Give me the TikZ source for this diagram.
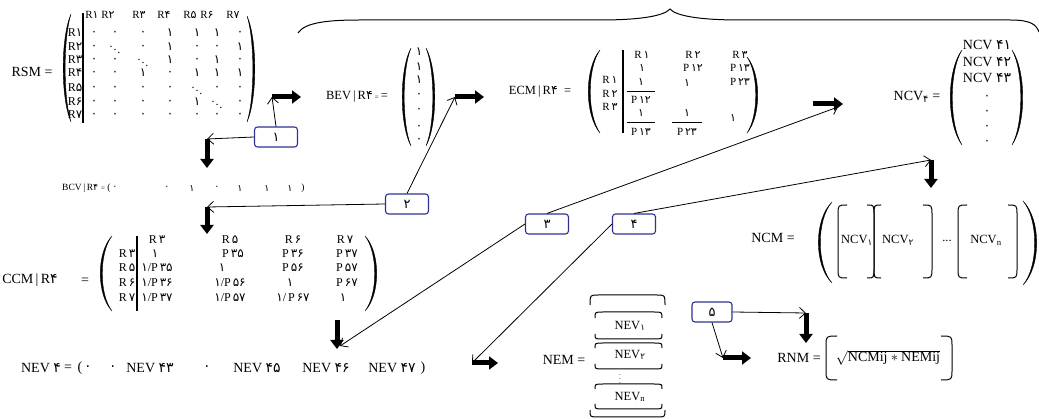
\documentclass[tikz,border=0pt]{standalone}
\usepackage{fontspec}
\setmainfont{Liberation Serif}
\newfontfamily\fa[Scale=1.0]{DejaVu Sans}
\usetikzlibrary{arrows.meta}
\definecolor{navy}{HTML}{2E3192}
\newcommand\fn[1]{{\fa #1}}
\newcommand\zz{\fn{۰}}
\newcommand\oo{\fn{۱}}
\newcommand\dg{$\scriptscriptstyle\ddots$}
% left / right parenthesis: x, top, bottom, width
\newcommand\LP[4]{\filldraw[parfill] ({#1+#4},#2) .. controls ({#1-0.3*#4},{#2+0.22*(#3-#2)}) and ({#1-0.3*#4},{#3-0.22*(#3-#2)}) .. ({#1+#4},#3) .. controls ({#1-0.3*#4+2.6},{#3-0.22*(#3-#2)}) and ({#1-0.3*#4+2.6},{#2+0.22*(#3-#2)}) .. ({#1+#4},#2) -- cycle;}
\newcommand\RP[4]{\filldraw[parfill] ({#1-#4},#2) .. controls ({#1+0.3*#4},{#2+0.22*(#3-#2)}) and ({#1+0.3*#4},{#3-0.22*(#3-#2)}) .. ({#1-#4},#3) .. controls ({#1+0.3*#4-2.6},{#3-0.22*(#3-#2)}) and ({#1+0.3*#4-2.6},{#2+0.22*(#3-#2)}) .. ({#1-#4},#2) -- cycle;}
% rounded brackets: x of vertical line, top, bottom, width
\newcommand\LB[4]{\draw[brk] ({#1+#4},#2) .. controls (#1,#2) .. (#1,{#2+10}) -- (#1,{#3-10}) .. controls (#1,#3) .. ({#1+#4},#3);}
\newcommand\RB[4]{\draw[brk] ({#1-#4},#2) .. controls (#1,#2) .. (#1,{#2+10}) -- (#1,{#3-10}) .. controls (#1,#3) .. ({#1-#4},#3);}
% horizontal caps: x1, x2, y, depth
\newcommand\TC[4]{\draw[brk] (#1,{#3+#4}) .. controls (#1,#3) .. ({#1+8},#3) -- ({#2-8},#3) .. controls (#2,#3) .. (#2,{#3+#4});}
\newcommand\BC[4]{\draw[brk] (#1,{#3-#4}) .. controls (#1,#3) .. ({#1+8},#3) -- ({#2-8},#3) .. controls (#2,#3) .. (#2,{#3-#4});}
\begin{document}
\begin{tikzpicture}[x=1pt,y=-1pt,
  tx/.style={inner sep=0pt, font=\fontsize{12}{13}\selectfont},
  txs/.style={inner sep=0pt, font=\fontsize{11}{12}\selectfont},
  lb/.style={inner sep=0pt, font=\fontsize{14}{15}\selectfont},
  lbs/.style={inner sep=0pt, font=\fontsize{12.5}{14}\selectfont},
  sm/.style={inner sep=0pt, font=\fontsize{9.5}{11}\selectfont},
  box/.style={draw=navy, line width=1.1pt, rounded corners=3pt, minimum width=43pt, minimum height=20pt, inner sep=0pt, font=\fontsize{13}{14}\selectfont},
  tarr/.style={line width=0.8pt, -{Straight Barb[length=6pt,width=11pt]}},
  blk/.style={line width=5pt, -{Triangle[length=9pt,width=13pt]}},
  parfill/.style={line width=0.4pt, fill=black},
  brk/.style={line width=1pt},
  bar/.style={line width=1.4pt}
]
\useasboundingbox (0,0) rectangle (1039,419);

% ---------- top brace
\draw[line width=1pt] (298,33) .. controls (305,22) and (330,20) .. (360,20) -- (600,20) .. controls (640,20) and (664,16) .. (670,9) .. controls (676,16) and (700,20) .. (740,20) -- (1010,20) .. controls (1030,20) and (1036,24) .. (1039,32);

% ---------- RSM
\node[lb] (rsm) at (32,72) {RSM =};
\LP{63}{14}{122}{8}
\RP{255}{16}{122}{8}
\draw[bar] (83,13) -- (83,123);
\foreach \x/\k [count=\i] in {92/۱,108/۲,139/۳,164/۴,190/۵,207/۶,233/۷}
  \node[txs] (rh\i) at (\x,15) {R\fn{\k}};
\foreach \y/\k [count=\i] in {33/۱,47/۲,60/۳,73/۴,88/۵,102/۶,115/۷}
  \node[tx] (rl\i) at (75,\y) {R\fn{\k}};
\foreach \y/\ua/\ub/\uc/\ud/\ue/\uf/\ug [count=\r] in {
  33/\zz/\zz/\zz/\oo/\oo/\oo/\zz,
  47/\zz/\dg/\zz/\oo/\zz/\zz/\oo,
  60/\zz/\zz/\dg/\oo/\zz/\oo/\zz,
  73/\zz/\zz/\oo/\zz/\oo/\oo/\oo,
  88/\zz/\zz/\zz/\zz/\dg/\zz/\zz,
  102/\zz/\zz/\zz/\zz/\oo/\dg/\zz,
  115/\zz/\zz/\zz/\zz/\zz/\zz/\zz}{
  \node[tx] (m\r a) at (94,\y) {\ua};
  \node[tx] (m\r b) at (115,\y) {\ub};
  \node[tx] (m\r c) at (143,\y) {\uc};
  \node[tx] (m\r d) at (170,\y) {\ud};
  \node[tx] (m\r e) at (197,\y) {\ue};
  \node[tx] (m\r f) at (217,\y) {\uf};
  \node[tx] (m\r g) at (240,\y) {\ug};
}

% ---------- BEV
\node[lbs] (bev) at (357,97) {BEV\,|\,R\fn{۴}\,{\scriptsize =}\,=};
\LP{402}{48}{146}{9}
\RP{435}{48}{146}{9}
\foreach \y/\v [count=\i] in {52/\oo,67/\oo,80/\oo,95/\zz,110/\zz,127/\zz,140/\zz}
  \node[tx] (bv\i) at (419,\y) {\v};

% ---------- ECM
\node[lbs] (ecm) at (540,92) {ECM\,|\,R\fn{۴}\ \ =};
\LP{588}{50}{133}{12}
\RP{758}{57}{133}{11}
\draw[bar] (623,50) -- (623,133);
\node[txs] (el1) at (610,80) {R\,\fn{۱}};
\node[txs] (el2) at (610,94) {R\,\fn{۲}};
\node[txs] (el3) at (610,107) {R\,\fn{۳}};
\node[txs] (eh1) at (642,55) {R\,\fn{۱}};
\node[txs] (eh2) at (693,55) {R\,\fn{۲}};
\node[txs] (eh3) at (740,55) {R\,\fn{۳}};
\node[txs] (e11) at (642,68) {\oo};
\node[txs] (e12) at (693,68) {P\,\fn{۱۲}};
\node[txs] (e13) at (740,68) {P\,\fn{۱۳}};
\node[txs] (e21n) at (641,82) {\oo};
\draw[line width=0.9pt] (627,91) -- (655,91);
\node[txs] (e21d) at (641,100) {P\,\fn{۱۲}};
\node[txs] (e22) at (687,83) {\oo};
\node[txs] (e23) at (740,82) {P\,\fn{۲۳}};
\node[txs] (e31n) at (641,113) {\oo};
\draw[line width=0.9pt] (627,122) -- (655,122);
\node[txs] (e31d) at (641,132) {P\,\fn{۱۳}};
\node[txs] (e32n) at (687,113) {\oo};
\draw[line width=0.9pt] (672,122) -- (702,122);
\node[txs] (e32d) at (687,132) {P\,\fn{۲۳}};
\node[txs] (e33) at (733,118) {\oo};

% ---------- NCV vector
\node[lb] (ncvl) at (917,97) {NCV\textsubscript{\fn{۴}} =};
\LP{950}{50}{145}{12}
\RP{1023}{50}{145}{11}
\node[lb] (nv1) at (987,45) {NCV \fn{۴۱}};
\node[lb] (nv2) at (987,62) {NCV \fn{۴۲}};
\node[lb] (nv3) at (987,78) {NCV \fn{۴۳}};
\foreach \y [count=\i] in {97,112,127,142}
  \node[tx] (nvd\i) at (987,\y) {\zz};

% ---------- BCV
\node[sm, anchor=west] (bcv) at (62,188) {BCV\,|\,R\fn{۴}};
\node[sm] (bcveq) at (103,189) {{\scriptsize =}};
\node[sm] (bcvl) at (109,188) {(};
\foreach \x/\v [count=\i] in {115/\zz,167/\zz,192/\oo,217/\zz,240/\oo,267/\oo,290/\oo}
  \node[sm] (bc\i) at (\x,188) {\v};
\node[sm] (bcvr) at (303,188) {)};

% ---------- CCM
\node[lb] (ccm) at (30,280) {CCM\,|\,R\fn{۴}};
\node[lb] (ccmeq) at (85,281) {=};
\LP{100}{236}{311}{12}
\RP{377}{236}{311}{12}
\draw[bar] (137,236) -- (137,311);
\node[tx] (cl1) at (127,254) {R\,\fn{۳}};
\node[tx] (cl2) at (127,268) {R\,\fn{۵}};
\node[tx] (cl3) at (127,283) {R\,\fn{۶}};
\node[tx] (cl4) at (127,298) {R\,\fn{۷}};
\node[tx] (ch1) at (157,240) {R\,\fn{۳}};
\node[tx] (ch2) at (230,240) {R\,\fn{۵}};
\node[tx] (ch3) at (293,240) {R\,\fn{۶}};
\node[tx] (ch4) at (345,240) {R\,\fn{۷}};
\node[tx] (c11) at (155,254) {\oo};
\node[tx] (c12) at (233,254) {P\,\fn{۳۵}};
\node[tx] (c13) at (293,254) {P\,\fn{۳۶}};
\node[tx] (c14) at (347,254) {P\,\fn{۳۷}};
\node[tx] (c21) at (157,268) {\oo/P\,\fn{۳۵}};
\node[tx] (c22) at (222,268) {\oo};
\node[tx] (c23) at (293,268) {P\,\fn{۵۶}};
\node[tx] (c24) at (347,268) {P\,\fn{۵۷}};
\node[tx] (c31) at (157,283) {\oo/P\,\fn{۳۶}};
\node[tx] (c32) at (230,283) {\oo/P\,\fn{۵۶}};
\node[tx] (c33) at (290,283) {\oo};
\node[tx] (c34) at (347,283) {P\,\fn{۶۷}};
\node[tx] (c41) at (157,298) {\oo/P\,\fn{۳۷}};
\node[tx] (c42) at (230,298) {\oo/P\,\fn{۵۷}};
\node[tx] (c43) at (293,298) {\oo/\,P\,\fn{۶۷}};
\node[tx] (c44) at (343,298) {\oo};

% ---------- NCM
\node[lb] (ncm) at (773,238) {NCM =};
\LP{818}{202}{283}{14}
\RP{1037}{201}{285}{14}
\LB{838}{205}{278}{9}
\node[lbs] (ncm1) at (857,240) {NCV\textsubscript{\fn{۱}}};
\RB{874}{205}{278}{7}
\LB{874}{205}{278}{7}
\node[lbs] (ncm2) at (898,240) {NCV\textsubscript{\fn{۲}}};
\RB{932}{205}{278}{9}
\node[lbs] (ncmdots) at (947,241) {...};
\LB{958}{205}{278}{9}
\node[lbs] (ncmn) at (986,240) {NCV\textsubscript{n}};
\RB{1017}{205}{278}{9}

% ---------- NEV row
\node[lb] (nev) at (41,368) {NEV \fn{۴}};
\node[lb] (neveq) at (68,368) {=};
\node[lb] (nevl) at (80,368) {(};
\node[lb] (nv0a) at (88,368) {\zz};
\node[lb] (nv0b) at (113,368) {\zz};
\node[lb] (nev43) at (150,368) {NEV \fn{۴۳}};
\node[lb] (nv0c) at (207,368) {\zz};
\node[lb] (nev45) at (257,368) {NEV \fn{۴۵}};
\node[lb] (nev46) at (326,368) {NEV \fn{۴۶}};
\node[lb] (nev47) at (392,368) {NEV \fn{۴۷}};
\node[lb] (nevr) at (423,368) {)};

% ---------- NEM
\node[lb] (nem) at (564,360) {NEM =};
\TC{590}{665}{295}{10}
\TC{595}{662}{312}{6}
\node[lbs] (nem1) at (630,326) {NEV\textsubscript{\fn{۱}}};
\BC{595}{662}{339}{5}
\TC{595}{662}{343}{5}
\node[lbs] (nem2) at (630,355) {NEV\textsubscript{\fn{۲}}};
\BC{595}{662}{369}{5}
\node[tx] (nemd) at (620,376) {\scriptsize$\vdots$};
\TC{595}{662}{384}{5}
\node[lbs] (nemn) at (630,397) {NEV\textsubscript{n}};
\BC{595}{662}{409}{5}
\BC{590}{665}{417}{7}

% ---------- RNM
\node[lb] (rnm) at (799,358) {RNM =};
\LB{826}{336}{380}{11}
\node[lb] (rnmv) at (888,358) {$\sqrt{\mbox{NCMij} \ast \mbox{NEMij}}$};
\RB{952}{336}{380}{11}

% ---------- numbered boxes
\node[box] (b1) at (276,137) {\fn{۱}};
\node[box] (b2) at (407,204) {\fn{۲}};
\node[box] (b3) at (547,224) {\fn{۳}};
\node[box] (b4) at (634,224) {\fn{۴}};
\node[box, minimum width=40pt] (b5) at (712,312) {\fn{۵}};

% ---------- block arrows
\coordinate (ta1s) at (272,97);  \coordinate (ta1e) at (301,97);
\coordinate (td1s) at (207,139); \coordinate (td1e) at (207,168);
\coordinate (td2s) at (207,207); \coordinate (td2e) at (207,234);
\coordinate (ta2s) at (455,97);  \coordinate (ta2e) at (484,97);
\coordinate (ta3s) at (813,104); \coordinate (ta3e) at (843,104);
\coordinate (td3s) at (931,160); \coordinate (td3e) at (931,188);
\coordinate (td4s) at (337,320); \coordinate (td4e) at (337,349);
\coordinate (ta4s) at (472,363); \coordinate (ta4e) at (498,363);
\coordinate (td5s) at (806,313); \coordinate (td5e) at (806,343);
\coordinate (ta5s) at (723,358); \coordinate (ta5e) at (751,358);
\foreach \s/\e in {ta1s/ta1e,td1s/td1e,td2s/td2e,ta2s/ta2e,ta3s/ta3e,td3s/td3e,td4s/td4e,ta4s/ta4e,td5s/td5e,ta5s/ta5e}
  \draw[blk] (\s) -- (\e);

% ---------- thin connectors
\coordinate (t3) at (838,107);
\coordinate (t4) at (340,346);
\draw[tarr] (b1.north) -- (ta1s);
\draw[tarr] (b1.west) -- (td1s);
\draw[tarr] (b2.west) -- (td2s);
\draw[tarr] (b2.north) -- (ta2s);
\draw[tarr] (b3.north) -- (t3);
\draw[tarr] (b3.west) -- (t4);
\draw[tarr] (b4.north) -- (td3s);
\draw[tarr] (b4.west) -- (ta4s);
\draw[tarr] (b5.east) -- (td5s);
\draw[tarr] (b5.south) -- (ta5s);
\end{tikzpicture}
\end{document}
